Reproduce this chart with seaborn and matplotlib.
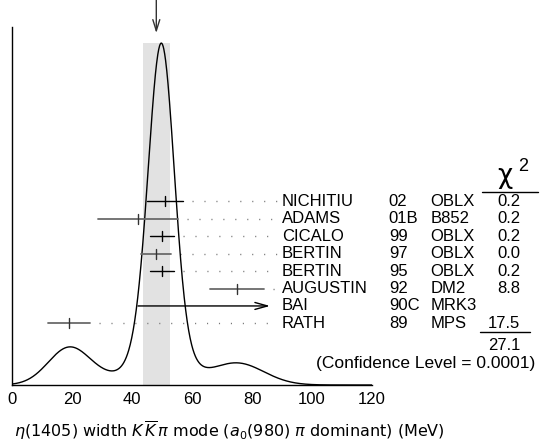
import numpy as np
import pandas as pd
import matplotlib
matplotlib.use('Agg')
import matplotlib.pyplot as plt
import seaborn as sns

# measurements (MeV)
authors = ['NICHITIU', 'ADAMS', 'CICALO', 'BERTIN', 'BERTIN', 'AUGUSTIN', 'BAI', 'RATH']
years = ['02', '01B', '99', '97', '95', '92', '90C', '89']
techs = ['OBLX', 'B852', 'OBLX', 'OBLX', 'OBLX', 'DM2', 'MRK3', 'MPS']
values = [51.0, 42.0, 50.0, 48.0, 50.0, 75.0, np.nan, 19.0]
errors = [6.0, 13.3, 4.0, 5.0, 4.0, 9.0, np.nan, 7.0]
chi2 = ['0.2', '0.2', '0.2', '0.0', '0.2', '8.8', '', '17.5']
bai_range = [42.0, 86.0]
grey_rows = [1, 3, 5, 7]

mean = 48.1
mean_err = 4.45
chi2_total = '27.1'
conf_level = '(Confidence Level = 0.0001)'

df = pd.DataFrame({'author': authors, 'year': years, 'tech': techs,
                   'value': values, 'error': errors, 'chi2': chi2})

# ideogram: gaussian per measurement, area ~ 1/sigma
x = np.linspace(0, 120, 1201)
used = df.dropna(subset=['value'])
ideo = np.zeros_like(x)
for v, e in zip(used['value'], used['error']):
    ideo += np.exp(-0.5 * ((x - v) / e) ** 2) / e ** 2
peak = 0.955
ideo = ideo / ideo.max() * peak
curve = pd.DataFrame({'x': x, 'y': ideo})

sns.set_style('white')
plt.rcParams['font.family'] = ['Liberation Sans', 'DejaVu Sans']
plt.rcParams['mathtext.fontset'] = 'dejavusans'
plt.rcParams['text.color'] = 'black'
plt.rcParams['xtick.color'] = 'black'

fig = plt.figure(figsize=(5.4, 4.46), dpi=100)
ax = fig.add_axes([12 / 540, 61 / 446, 360 / 540, 358 / 446])

# shaded band at weighted mean
ax.fill_between([mean - mean_err, mean + mean_err], 0, peak, color='#e2e2e2', lw=0, zorder=0)

sns.lineplot(data=curve, x='x', y='y', ax=ax, color='black', lw=1.0, zorder=3)

row_y = 0.513 - 0.0487 * np.arange(len(df))
for i, r in df.iterrows():
    y = row_y[i]
    col = '#6a6a6a' if i in grey_rows else 'black'
    tcol = '#333333' if i in grey_rows else 'black'
    if np.isnan(r['value']):
        ax.annotate('', xy=(bai_range[1], y), xytext=(bai_range[0], y),
                    arrowprops=dict(arrowstyle='->,head_length=0.9,head_width=0.25',
                                    lw=1.0, color='black', shrinkA=0, shrinkB=0),
                    zorder=4)
        continue
    lo, hi = r['value'] - r['error'], r['value'] + r['error']
    ax.plot([lo, hi], [y, y], color=col, lw=1.3 if i in grey_rows else 1.0, zorder=4)
    ax.plot([r['value']] * 2, [y - 0.014, y + 0.014], color=tcol, lw=1.0, zorder=4)
    ax.plot([hi + 3, 88.5], [y, y], color='#777777', lw=1.0,
            linestyle=(0, (0.8, 7.8)), zorder=2, clip_on=False)

# table
fs = 12
for i, r in df.iterrows():
    y = row_y[i]
    ax.text(89.9, y, r['author'], fontsize=fs, va='center', ha='left', clip_on=False)
    ax.text(125.6, y, r['year'], fontsize=fs, va='center', ha='left', clip_on=False)
    ax.text(139.4, y, r['tech'], fontsize=fs, va='center', ha='left', clip_on=False)
    ax.text(169.4, y, r['chi2'], fontsize=fs, va='center', ha='right', clip_on=False)

ax.text(164.2, 0.563, 'χ', fontsize=19, family='DejaVu Sans', ha='center', va='baseline')
ax.text(168.8, 0.599, '2', fontsize=13, ha='left', va='baseline')
ax.plot([156.5, 175.2], [0.540, 0.540], color='black', lw=1.0, clip_on=False)
ax.plot([155.9, 172.6], [0.148, 0.148], color='black', lw=1.0, clip_on=False)
ax.text(169.4, 0.110, chi2_total, fontsize=fs, va='center', ha='right', clip_on=False)
ax.text(174.4, 0.061, conf_level, fontsize=12.5, va='center', ha='right', clip_on=False)

# arrow marking the mean
ax.annotate('', xy=(mean, 0.983), xytext=(mean, 1.075),
            arrowprops=dict(arrowstyle='->,head_length=0.8,head_width=0.25',
                            lw=1.0, color='#333333', shrinkA=0, shrinkB=0),
            annotation_clip=False)

ax.set_xlim(0, 120)
ax.set_ylim(0, 1)
ax.set_xticks([0, 20, 40, 60, 80, 100, 120])
ax.set_yticks([])
ax.tick_params(axis='x', direction='in', length=7.2, width=1, pad=5, labelsize=12)
ax.set_xlabel('')
ax.set_ylabel('')
for s in ['top', 'right']:
    ax.spines[s].set_visible(False)
for s in ['left', 'bottom']:
    ax.spines[s].set_color('black')
    ax.spines[s].set_linewidth(1.0)
ax.spines['left'].set_bounds(0, 1.0)
ax.patch.set_alpha(0)

fig.text(14 / 540, 1 - 431 / 446,
         r'$\eta$(1405) width $K\,\overline{K}\,\pi$ mode ($a_0$(980) $\pi$ dominant) (MeV)',
         fontsize=11.5, family='DejaVu Sans', va='center', ha='left')

fig.savefig('out.png', dpi=100)
